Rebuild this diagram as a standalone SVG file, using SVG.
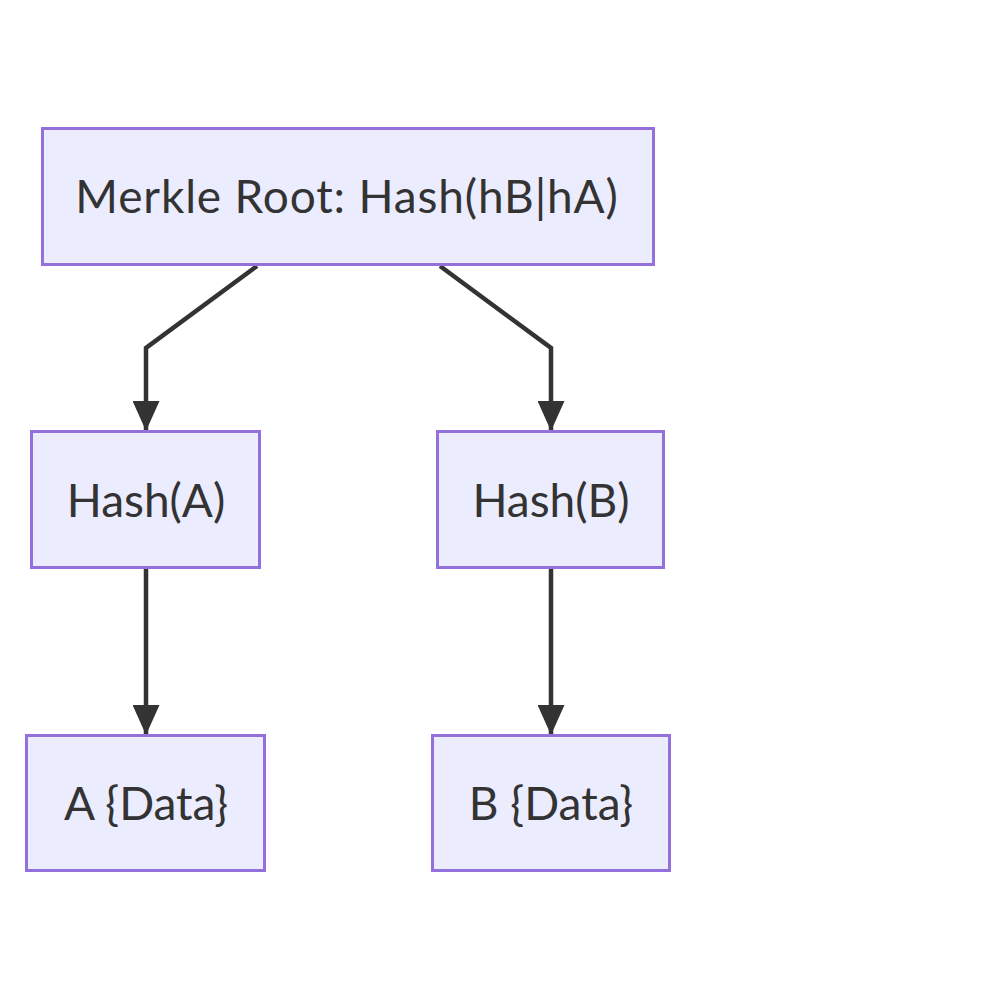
<svg xmlns="http://www.w3.org/2000/svg" width="1000" height="1000" viewBox="0 0 1000 1000">
<style>
.node rect{fill:#ECECFF;stroke:#9370DB;stroke-width:3}
.node text{font-family:Lato,"Liberation Sans",sans-serif;font-size:46px;fill:#333333;text-anchor:middle;dominant-baseline:central}
.edge{fill:none;stroke:#333333;stroke-width:4.5}
</style>
<defs>
<marker id="arrow" markerUnits="userSpaceOnUse" viewBox="0 0 30 27" refX="30" refY="13.5" markerWidth="30" markerHeight="27" orient="auto">
<path d="M0,0 L30,13.5 L0,27 z" fill="#333333"/>
</marker>
</defs>
<rect width="1000" height="1000" fill="#ffffff"/>
<g id="connectors">
<path class="edge" d="M257,266 L146,348 L146,431" marker-end="url(#arrow)"/>
<path class="edge" d="M440,266 L551,348 L551,431" marker-end="url(#arrow)"/>
<path class="edge" d="M146,568 L146,735" marker-end="url(#arrow)"/>
<path class="edge" d="M551,568 L551,735" marker-end="url(#arrow)"/>
</g>
<g id="root" class="node">
<rect x="42.5" y="128.5" width="611" height="136"/>
<text x="347" y="195" letter-spacing="0.85">Merkle Root: Hash(hB|hA)</text>
</g>
<g id="hashA" class="node">
<rect x="31.5" y="431.5" width="228" height="136"/>
<text x="146" y="499">Hash(A)</text>
</g>
<g id="hashB" class="node">
<rect x="437.5" y="431.5" width="226" height="136"/>
<text x="551" y="499">Hash(B)</text>
</g>
<g id="dataA" class="node">
<rect x="26.5" y="735.5" width="238" height="135"/>
<text x="146" y="802">A {Data}</text>
</g>
<g id="dataB" class="node">
<rect x="432.5" y="735.5" width="237" height="135"/>
<text x="551" y="802">B {Data}</text>
</g>
</svg>
